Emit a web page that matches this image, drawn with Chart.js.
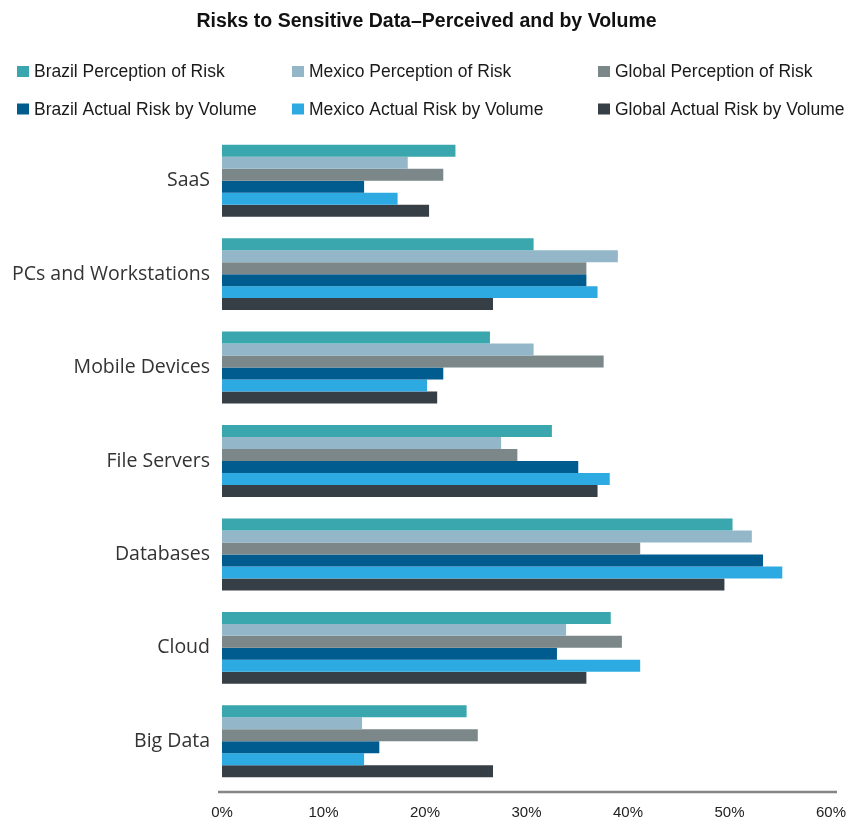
<!DOCTYPE html>
<html>
<head>
<meta charset="utf-8">
<title>Risks to Sensitive Data</title>
<script src="https://cdn.jsdelivr.net/npm/chart.js@4.4.1/dist/chart.umd.min.js"></script>
<style>
  html, body { margin: 0; padding: 0; background: #fff; }
  #wrap { width: 853px; height: 820px; position: relative; }
</style>
</head>
<body>
<div id="wrap"><canvas id="riskChart"></canvas></div>
<script>
const categories = ['SaaS', 'PCs and Workstations', 'Mobile Devices', 'File Servers', 'Databases', 'Cloud', 'Big Data'];

// percent of respondents, per category
const brazilPerception = [23.0, 30.7, 26.4, 32.5, 50.3, 38.3, 24.1];
const mexicoPerception = [18.3, 39.0, 30.7, 27.5, 52.2, 33.9, 13.8];
const globalPerception = [21.8, 35.9, 37.6, 29.1, 41.2, 39.4, 25.2];
const brazilActual = [14.0, 35.9, 21.8, 35.1, 53.3, 33.0, 15.5];
const mexicoActual = [17.3, 37.0, 20.2, 38.2, 55.2, 41.2, 14.0];
const globalActual = [20.4, 26.7, 21.2, 37.0, 49.5, 35.9, 26.7];

const xTicks = [0, 10, 20, 30, 40, 50, 60];

const series = [
  { label: 'Brazil Perception of Risk', data: brazilPerception, color: '#3aa6ae' },
  { label: 'Mexico Perception of Risk', data: mexicoPerception, color: '#93b7c8' },
  { label: 'Global Perception of Risk', data: globalPerception, color: '#7b8788' },
  { label: 'Brazil Actual Risk by Volume', data: brazilActual, color: '#005b8f' },
  { label: 'Mexico Actual Risk by Volume', data: mexicoActual, color: '#2eaae2' },
  { label: 'Global Actual Risk by Volume', data: globalActual, color: '#363e46' }
];

// two rows of three, laid out like a table above the plot
const gridLegend = {
  id: 'gridLegend',
  afterDraw(chart) {
    const ctx = chart.ctx;
    const colX = [17, 292, 598];
    const rowY = [71.5, 109];
    ctx.save();
    ctx.font = '17.5px "Liberation Sans", Arial, sans-serif';
    ctx.textBaseline = 'middle';
    chart.data.datasets.forEach((ds, i) => {
      const x = colX[i % 3];
      const y = rowY[Math.floor(i / 3)];
      ctx.fillStyle = ds.backgroundColor;
      ctx.fillRect(x, y - 5.5, 12, 11);
      ctx.fillStyle = '#1a1a1a';
      ctx.fillText(ds.label, x + 17, y + 1);
    });
    ctx.restore();
  }
};

// gray base line sitting a little under the last group
const baseLine = {
  id: 'baseLine',
  afterDraw(chart) {
    const { ctx, chartArea } = chart;
    const y = chartArea.bottom + 4;
    ctx.save();
    ctx.strokeStyle = '#858585';
    ctx.lineWidth = 2.5;
    ctx.beginPath();
    ctx.moveTo(chartArea.left - 4, y);
    ctx.lineTo(chartArea.right + 6, y);
    ctx.stroke();
    ctx.restore();
  }
};

new Chart(document.getElementById('riskChart'), {
  type: 'bar',
  data: {
    labels: categories,
    datasets: series.map(s => ({
      label: s.label,
      data: s.data,
      backgroundColor: s.color,
      borderWidth: 0,
      barPercentage: 1,
      categoryPercentage: 0.77
    }))
  },
  options: {
    indexAxis: 'y',
    responsive: true,
    maintainAspectRatio: false,
    animation: false,
    layout: { padding: 0 },
    plugins: {
      legend: { display: false },
      tooltip: { enabled: false },
      title: {
        display: true,
        text: 'Risks to Sensitive Data\u2013Perceived and by Volume',
        color: '#111',
        font: { family: '"Liberation Sans", Arial, sans-serif', size: 19.5, weight: 'bold', lineHeight: 1.0 },
        padding: { top: 12, bottom: 102.5 }
      }
    },
    scales: {
      x: {
        min: 0,
        max: 60,
        afterBuildTicks(scale) { scale.ticks = xTicks.map(v => ({ value: v })); },
        afterFit(scale) {
          // keep the title centred on the full width, reserve the right margin here
          scale.height = 32;
          scale.paddingLeft = 0;
          scale.paddingRight = 22;
        },
        grid: { display: false, drawTicks: false },
        border: { display: false },
        ticks: {
          padding: 16,
          color: '#222',
          font: { family: '"Liberation Sans", Arial, sans-serif', size: 15 },
          callback: v => v + '%'
        }
      },
      y: {
        afterFit(scale) { scale.width = 222; },
        grid: { display: false, drawTicks: false },
        border: { display: false },
        ticks: {
          padding: 12,
          color: '#333',
          font: { family: '"Open Sans", sans-serif', size: 19.5 }
        }
      }
    }
  },
  plugins: [gridLegend, baseLine]
});
</script>
</body>
</html>
